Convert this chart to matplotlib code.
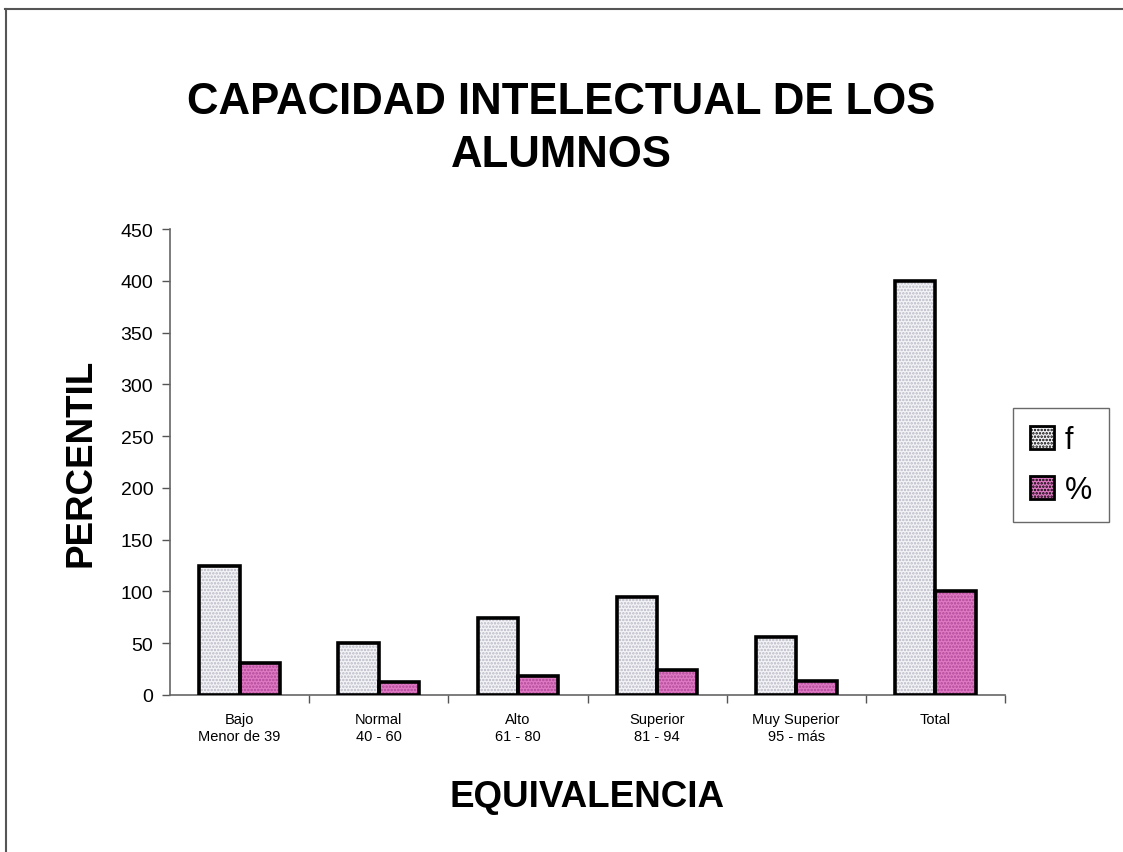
import matplotlib
matplotlib.use("Agg")
import matplotlib.pyplot as plt
import numpy as np
from matplotlib.patches import Patch
from matplotlib.lines import Line2D

categories = ["Bajo\nMenor de 39", "Normal\n40 - 60", "Alto\n61 - 80",
              "Superior\n81 - 94", "Muy Superior\n95 - más", "Total"]
f_values = [125, 50, 74, 95, 56, 400]
pct_values = [31.25, 12.5, 18.5, 23.75, 14, 100]
y_ticks = [0, 50, 100, 150, 200, 250, 300, 350, 400, 450]

plt.rcParams['font.family'] = ['Liberation Sans', 'DejaVu Sans']
plt.rcParams['hatch.linewidth'] = 1.2

W, H = 1123, 853
fig = plt.figure(figsize=(W / 100, H / 100), dpi=100)
ax = fig.add_axes([170 / W, 1 - 696 / H, (1005 - 170) / W, (696 - 230) / H])

x = np.arange(len(categories))
bw = 0.29
f_face, f_hatch = '#f4f4f8', '#b8b8c4'
p_face, p_hatch = '#e07ac4', '#b04898'

ax.bar(x - bw / 2, f_values, bw, color=f_face, hatch='.....', edgecolor=f_hatch, linewidth=0, zorder=2)
ax.bar(x + bw / 2, pct_values, bw, color=p_face, hatch='.....', edgecolor=p_hatch, linewidth=0, zorder=2)
ax.bar(x - bw / 2, f_values, bw, fill=False, edgecolor='black', linewidth=2.6, zorder=3)
ax.bar(x + bw / 2, pct_values, bw, fill=False, edgecolor='black', linewidth=2.6, zorder=3)

ax.set_xlim(-0.5, len(categories) - 0.5)
ax.set_ylim(0, 450)
ax.set_yticks(y_ticks)
ax.set_yticklabels([str(v) for v in y_ticks], fontsize=14)
ax.set_xticks(x)
ax.set_xticklabels(categories, fontsize=10.5, linespacing=1.3)
ax.set_xticks(np.arange(len(categories)) + 0.5, minor=True)
ax.tick_params(axis='x', which='major', length=0, pad=12)
ax.tick_params(axis='x', which='minor', length=6, width=1, color='#555555', direction='out')
ax.tick_params(axis='y', length=6, width=1, color='#555555', direction='out', pad=6)
for s in ['top', 'right']:
    ax.spines[s].set_visible(False)
for s in ['left', 'bottom']:
    ax.spines[s].set_color('#666666')
    ax.spines[s].set_linewidth(1.2)

ax.set_xlabel("EQUIVALENCIA", fontsize=26.5, fontweight='bold', labelpad=26)
ax.set_ylabel("PERCENTIL", fontsize=26.5, fontweight='bold', labelpad=16)

fig.text(0.5, 1 - 129 / H, "CAPACIDAD INTELECTUAL DE LOS\nALUMNOS", ha='center', va='center',
         fontsize=31.5, fontweight='bold', linespacing=1.38)

handles = [Patch(facecolor=f_face, edgecolor='black', hatch='.....', linewidth=2),
           Patch(facecolor=p_face, edgecolor='black', hatch='.....', linewidth=2)]
leg = fig.legend(handles, ['f', '%'], loc='center', bbox_to_anchor=(1061 / W, 1 - 466 / H),
                 fontsize=22, frameon=True, fancybox=False, edgecolor='#444444',
                 handlelength=0.8, handleheight=0.8, handletextpad=0.35, labelspacing=0.65,
                 borderpad=0.55)
leg.get_frame().set_linewidth(1.0)

# outer chart border
fig.add_artist(Line2D([5 / W, 1.0], [1 - 10 / H, 1 - 10 / H], transform=fig.transFigure,
                      color='#555555', linewidth=1.5))
fig.add_artist(Line2D([6 / W, 6 / W], [0, 1 - 10 / H], transform=fig.transFigure,
                      color='#555555', linewidth=1.5))

fig.savefig("out.png", dpi=100)
